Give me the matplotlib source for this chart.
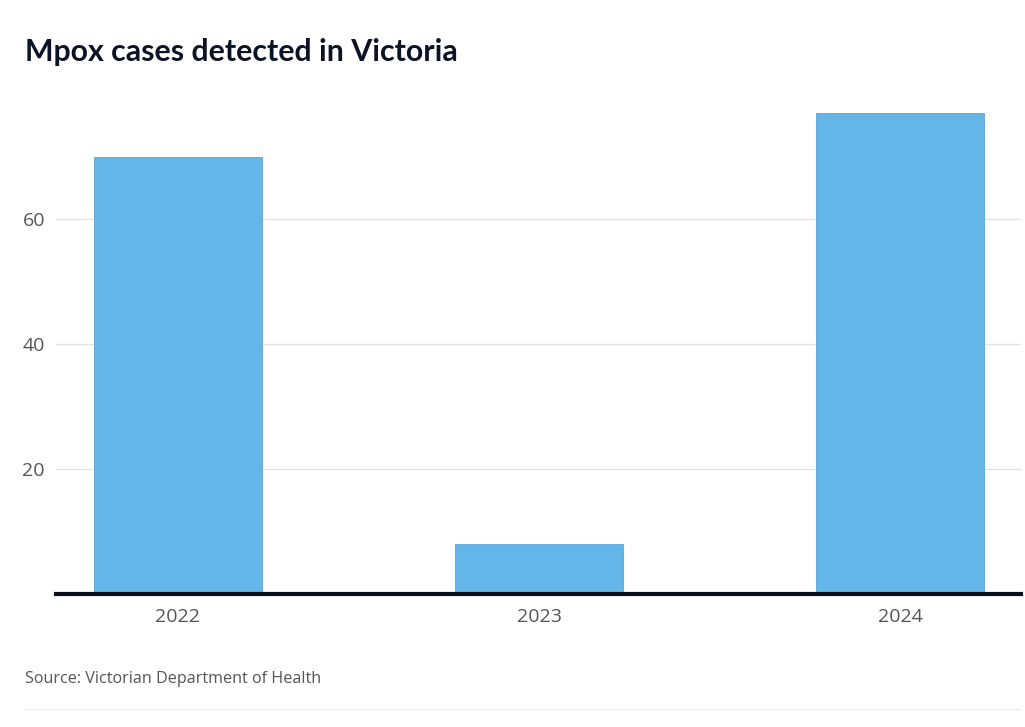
import matplotlib.pyplot as plt
from matplotlib.lines import Line2D

years = ['2022', '2023', '2024']
cases = [70, 8, 77]
yticks = [20, 40, 60]

fig = plt.figure(figsize=(10.25, 7.27), dpi=100)
ax = fig.add_axes([56 / 1025, 1 - 594 / 727, 965 / 1025, 500 / 727])

x = range(len(years))
ax.bar(x, cases, width=0.465, color='#64b6e9', edgecolor='#5aa6d8', linewidth=0.6, zorder=3)

ax.set_xlim(-0.3366, 2.334)
ax.set_ylim(0, 80)
ax.set_yticks(yticks)
ax.set_yticklabels([str(t) for t in yticks], family='Open Sans', fontsize=14, color='#555555')
ax.set_xticks(list(x))
ax.set_xticklabels(years, family='Open Sans', fontsize=14, color='#555555')
ax.tick_params(axis='both', length=0)
ax.tick_params(axis='x', pad=10)
ax.tick_params(axis='y', pad=8)

ax.grid(axis='y', color='#e3e3e3', linewidth=1, zorder=0)
for s in ['top', 'right', 'left']:
    ax.spines[s].set_visible(False)
ax.spines['bottom'].set_color('#0a0f1e')
ax.spines['bottom'].set_linewidth(3)
ax.spines['bottom'].set_zorder(4)

fig.text(25 / 1025, 1 - 52 / 727, 'Mpox cases detected in Victoria', family='Lato',
         fontweight='bold', fontsize=21.8, color='#0d1326', va='center')
fig.text(25 / 1025, 1 - 679 / 727, 'Source: Victorian Department of Health', family='Open Sans',
         fontsize=11.6, color='#555555', va='center')
fig.add_artist(Line2D([25 / 1025, 1020 / 1025], [1 - 709 / 727, 1 - 709 / 727],
                      color='#eeeeee', linewidth=1))

fig.savefig('out.png', dpi=100)
